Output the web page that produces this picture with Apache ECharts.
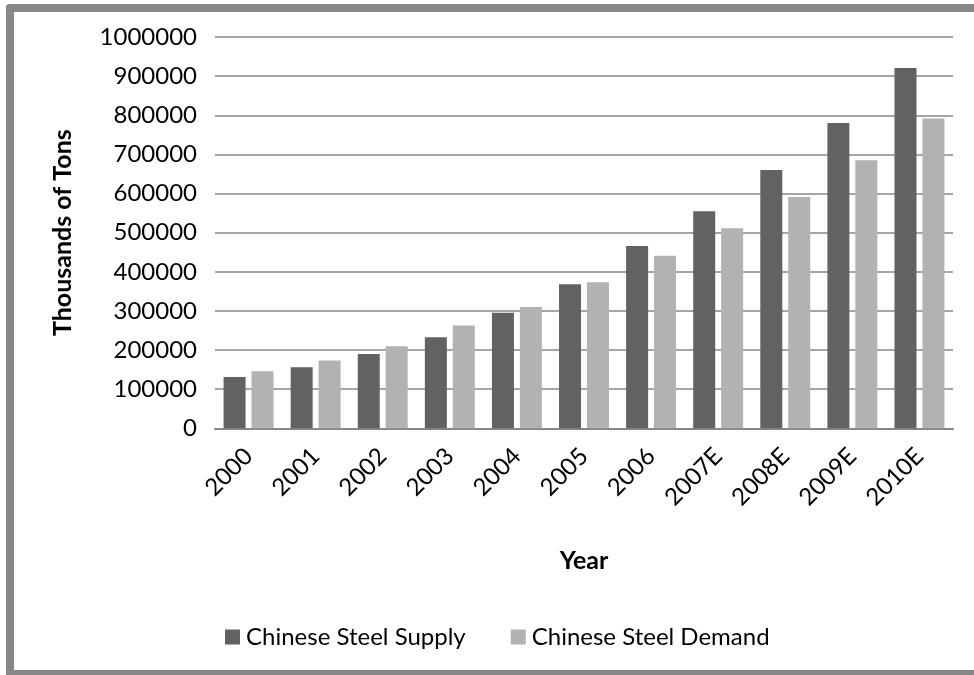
<!DOCTYPE html>
<html>
<head>
<meta charset="utf-8">
<script src="https://cdn.jsdelivr.net/npm/echarts@6/dist/echarts.min.js"></script>
<style>
html,body{margin:0;padding:0;background:#fff;}
#chart{width:974px;height:675px;}
</style>
</head>
<body>
<div id="chart"></div>
<script>
var categories = ['2000','2001','2002','2003','2004','2005','2006','2007E','2008E','2009E','2010E'];
var supplyValues = [131000,156000,190000,233000,295000,368000,466000,555000,660000,780000,921000];
var demandValues = [146000,173000,210000,263000,310000,373000,441000,511000,591000,685000,792000];
var yTicks = {min:0, max:1000000, interval:100000};
var seriesNames = ['Chinese Steel Supply','Chinese Steel Demand'];
var FONT = 'Lato';

var chart = echarts.init(document.getElementById('chart'), null, {renderer:'canvas'});
var frameStyle = {fill:'#878787'};
chart.setOption({
  backgroundColor:'#ffffff',
  animation:false,
  textStyle:{fontFamily:FONT},
  graphic:[
    {type:'rect', shape:{x:6, y:4, width:8, height:674, r:[4,0,0,4]}, style:frameStyle, silent:true},
    {type:'rect', shape:{x:6, y:4, width:968, height:8, r:[4,0,0,0]}, style:frameStyle, silent:true},
    {type:'rect', shape:{x:6, y:670, width:968, height:8}, style:frameStyle, silent:true}
  ],
  grid:{left:215, right:21, top:37, bottom:246.7, containLabel:false},
  legend:{
    data:seriesNames,
    left:225, top:625,
    itemWidth:15, itemHeight:15, itemGap:45,
    icon:'rect',
    textStyle:{fontFamily:FONT, fontSize:24, color:'#000', padding:[0,0,0,1]},
    padding:0
  },
  xAxis:{
    type:'category',
    data:categories,
    axisTick:{show:false},
    axisLine:{lineStyle:{color:'#878787', width:2}},
    axisLabel:{rotate:45, fontSize:24, color:'#000', fontFamily:FONT, margin:24, interval:0},
    name:'Year', nameLocation:'middle', nameGap:120,
    nameTextStyle:{fontFamily:FONT, fontSize:25, fontWeight:'bold', color:'#000'}
  },
  yAxis:{
    type:'value',
    min:yTicks.min, max:yTicks.max, interval:yTicks.interval,
    axisLine:{show:false},
    axisTick:{show:false},
    axisLabel:{fontSize:24, color:'#000', fontFamily:FONT, margin:18,
      formatter:function(v){return String(v);}},
    splitLine:{lineStyle:{color:'#878787', width:1.5}},
    name:'Thousands of Tons', nameLocation:'middle', nameGap:140,
    nameTextStyle:{fontFamily:FONT, fontSize:25, fontWeight:'bold', color:'#000'}
  },
  series:[
    {name:seriesNames[0], type:'bar', data:supplyValues, barWidth:22, barGap:'27%',
     itemStyle:{color:'#626262'}},
    {name:seriesNames[1], type:'bar', data:demandValues, barWidth:22,
     itemStyle:{color:'#b2b2b2'}}
  ]
});
</script>
</body>
</html>
